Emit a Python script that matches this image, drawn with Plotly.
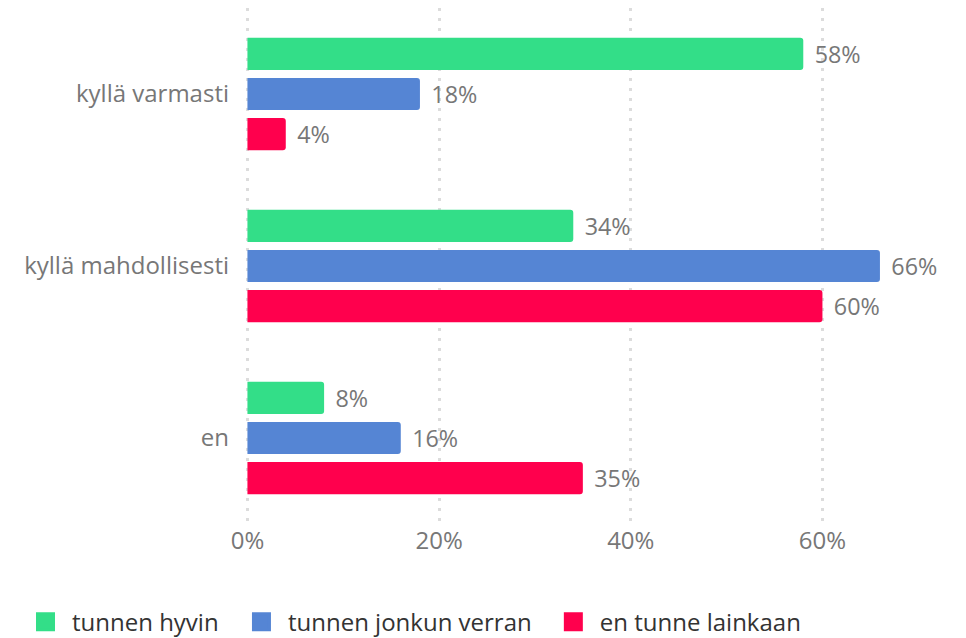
import plotly.graph_objects as go

categories = ["kyllä varmasti", "kyllä mahdollisesti", "en"]
series_names = ["tunnen hyvin", "tunnen jonkun verran", "en tunne lainkaan"]
hyvin = [58, 34, 8]
jonkun = [18, 66, 16]
ei = [4, 60, 35]
colors = ["#33DE88", "#5585D4", "#FF004D"]
tick_vals = [0, 20, 40, 60]
tick_text = ["0%", "20%", "40%", "60%"]

FONT = "Open Sans"
GREY = "#777777"
FS = 24

fig = go.Figure()
for name, vals, col in zip(series_names, [hyvin, jonkun, ei], colors):
    fig.add_trace(go.Bar(
        y=categories, x=vals, name=name, orientation="h",
        marker=dict(color=col, line=dict(width=0)),
        text=["\u00a0\u200a" + f"{v}%" for v in vals], textposition="outside",
        textfont=dict(color=GREY, size=FS, family=FONT),
        cliponaxis=False, hoverinfo="skip", showlegend=False,
    ))

# legend entries (one legend per entry so each can be placed like the original)
legend_ids = ["legend", "legend2", "legend3"]
legend_x = [-0.329, -0.016, 0.436]
for name, col, lid in zip(series_names, colors, legend_ids):
    fig.add_trace(go.Scatter(
        x=[None], y=[None], mode="markers", name=name, legend=lid,
        marker=dict(symbol="square", size=16, color=col,
                    line=dict(color=col, width=3)),
        hoverinfo="skip",
    ))

legend_common = dict(orientation="h", xref="paper", yref="paper",
                     xanchor="left", y=-0.19, yanchor="middle",
                     font=dict(size=FS, color="#333333", family=FONT),
                     itemsizing="trace", itemwidth=43,
                     bgcolor="rgba(0,0,0,0)")

fig.update_layout(
    width=966, height=638,
    margin=dict(l=246, r=30, t=8, b=114, autoexpand=False),
    paper_bgcolor="white", plot_bgcolor="white",
    barmode="group", bargap=0.3, bargroupgap=0.2, barcornerradius=3,
    font=dict(family=FONT, size=FS, color=GREY),
    xaxis=dict(range=[-0.15, 71.85], tickvals=tick_vals, ticktext=tick_text,
               showgrid=True, gridcolor="#DCDCDC", griddash="3px,7px", gridwidth=3,
               zeroline=False, showline=False, ticks="",
               tickfont=dict(size=FS, color=GREY)),
    yaxis=dict(autorange="reversed", showgrid=False, zeroline=False,
               ticks="", ticklabelstandoff=16, type="category",
               tickfont=dict(size=FS, color=GREY)),
    legend=dict(x=legend_x[0], **legend_common),
    legend2=dict(x=legend_x[1], **legend_common),
    legend3=dict(x=legend_x[2], **legend_common),
    showlegend=True,
)
fig.write_html("out.html", config={"displayModeBar": False},
               post_script="document.body.style.margin='0px';")
